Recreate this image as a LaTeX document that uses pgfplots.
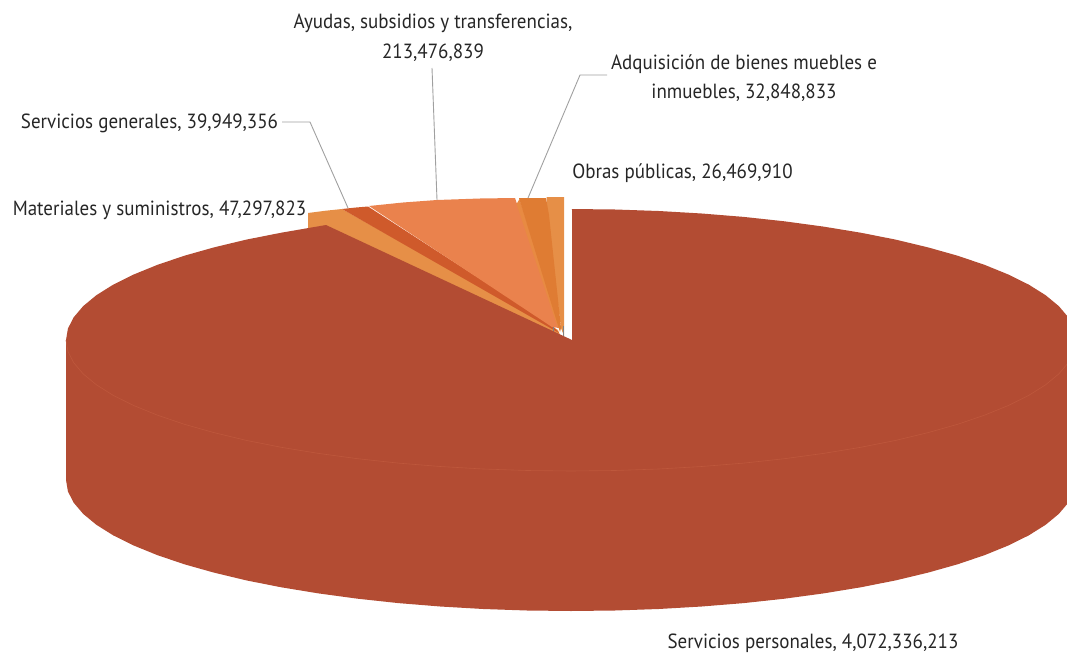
\documentclass[border=0pt]{standalone}
\usepackage{graphicx}
\usepackage{pgfplots}
\pgfplotsset{compat=1.18}
\usepackage{fontspec}
\setmainfont{PT Sans}
\definecolor{mainred}{RGB}{179,76,51}
\definecolor{seam}{RGB}{190,88,60}
\definecolor{mater}{RGB}{230,143,71}
\definecolor{gener}{RGB}{207,90,43}
\definecolor{ayud}{RGB}{234,130,77}
\definecolor{adqu}{RGB}{223,124,51}
\definecolor{adqside}{RGB}{232,138,66}
\definecolor{leader}{RGB}{160,160,160}
\newcommand{\lab}[1]{\scalebox{0.927}[1]{\fontsize{20.5}{24}\selectfont #1}}
\begin{document}
\begin{tikzpicture}
\begin{axis}[
  scale only axis, width=1067pt, height=655pt,
  xmin=0, xmax=1067, ymin=0, ymax=655, y dir=reverse,
  hide axis, clip=true
]
\path (axis cs:0,0) rectangle (axis cs:1067,655);
% small wedges
\addplot[fill=mater, draw=none] coordinates {(308,213) (325,210.8) (342,209) (558,330) (562,340) (326,228) (308,230)} -- cycle;
\addplot[fill=gener, draw=none] coordinates {(342,209) (355,207.6) (368,206.5) (553,326) (559,333)} -- cycle;
\addplot[fill=ayud, draw=none] coordinates {(369,206) (403,202.5) (437,200) (480,198.5) (515,198) (559,328) (552,327)} -- cycle;
\addplot[fill=adqside, draw=none] coordinates {(516.5,204) (519.5,199) (561,328) (558,328)} -- cycle;
\addplot[fill=mater, draw=none] coordinates {(546.5,197) (564,197) (564,336) (561,328) (547,215)} -- cycle;
\addplot[fill=adqu, draw=none] coordinates {(519,198) (546,198) (549,215) (561,328) (560,332)} -- cycle;
\addplot[draw=gray, line width=0.8pt] coordinates {(553,327) (553,334)};
\addplot[draw=gray, line width=0.8pt] coordinates {(563,326) (563,336)};
% main slice
\addplot[fill=mainred, draw=none] coordinates {
(571,209) (615,209.5) (658.7,211) (701.7,213.5) (743.7,216.9) (784.4,221.3) (823.5,226.6) (860.7,232.7) (895.6,239.6) (928.1,247.4) (957.9,255.8) (984.7,264.9) (1008.3,274.5) (1028.7,284.6) (1045.6,295.2) (1058.8,306.1) (1068.3,317.3) (1074.1,328.6) (1076,340)
(1076,480) (1074.1,491.4) (1068.3,502.7) (1058.8,513.9) (1045.6,524.8) (1028.7,535.4) (1008.3,545.5) (984.7,555.1) (957.9,564.2) (928.1,572.6) (895.6,580.4) (860.7,587.3) (823.5,593.4) (784.4,598.7) (743.7,603.1) (701.7,606.5) (658.7,609) (615,610.5) (571,611)
(527,610.5) (483.3,609) (440.3,606.5) (398.3,603.1) (357.6,598.7) (318.5,593.4) (281.3,587.3) (246.4,580.4) (213.9,572.6) (184.1,564.2) (157.3,555.1) (133.7,545.5) (113.3,535.4) (96.4,524.8) (83.2,513.9) (73.7,502.7) (67.9,491.4) (66,480)
(66,340) (67.9,328.6) (73.7,317.3) (83.2,306.1) (96.4,295.2) (113.3,284.6) (133.7,274.5) (157.3,264.9) (184.1,255.8) (213.9,247.4) (246.4,239.6) (281.3,232.7) (326,225)
(572,340) (572,209)
} -- cycle;
% seam of the top face
\addplot[draw=seam, line width=0.6pt] coordinates {
(66,340) (67.9,351.4) (73.7,362.7) (83.2,373.9) (96.4,384.8) (113.3,395.4) (133.7,405.5) (157.3,415.1) (184.1,424.2) (213.9,432.6) (246.4,440.4) (281.3,447.3) (318.5,453.4) (357.6,458.7) (398.3,463.1) (440.3,466.5) (483.3,469) (527,470.5) (571,471) (615,470.5) (658.7,469) (701.7,466.5) (743.7,463.1) (784.4,458.7) (823.5,453.4) (860.7,447.3) (895.6,440.4) (928.1,432.6) (957.9,424.2) (984.7,415.1) (1008.3,405.5) (1028.7,395.4) (1045.6,384.8) (1058.8,373.9) (1068.3,362.7)
};
% leaders
\addplot[draw=leader, line width=0.9pt] coordinates {(282,122) (310,122) (348,208)};
\addplot[draw=leader, line width=0.9pt] coordinates {(432,68) (437,200)};
\addplot[draw=leader, line width=0.9pt] coordinates {(607,75) (580,75) (528,198)};
% labels
\node[anchor=center, inner sep=0pt, text=black!85] at (axis cs:433,23.5) {\lab{Ayudas, subsidios y transferencias,}};
\node[anchor=center, inner sep=0pt, text=black!85] at (axis cs:433,52.5) {\lab{213,476,839}};
\node[anchor=center, inner sep=0pt, text=black!85] at (axis cs:744,64.5) {\lab{Adquisición de bienes muebles e}};
\node[anchor=center, inner sep=0pt, text=black!85] at (axis cs:744,92.5) {\lab{inmuebles, 32,848,833}};
\node[anchor=center, inner sep=0pt, text=black!85] at (axis cs:149.5,123.5) {\lab{Servicios generales, 39,949,356}};
\node[anchor=center, inner sep=0pt, text=black!85] at (axis cs:682.5,173.5) {\lab{Obras públicas, 26,469,910}};
\node[anchor=center, inner sep=0pt, text=black!85] at (axis cs:159.5,210.5) {\lab{Materiales y suministros, 47,297,823}};
\node[anchor=center, inner sep=0pt, text=black!85] at (axis cs:813,643.5) {\lab{Servicios personales, 4,072,336,213}};
\end{axis}
\end{tikzpicture}
\end{document}
